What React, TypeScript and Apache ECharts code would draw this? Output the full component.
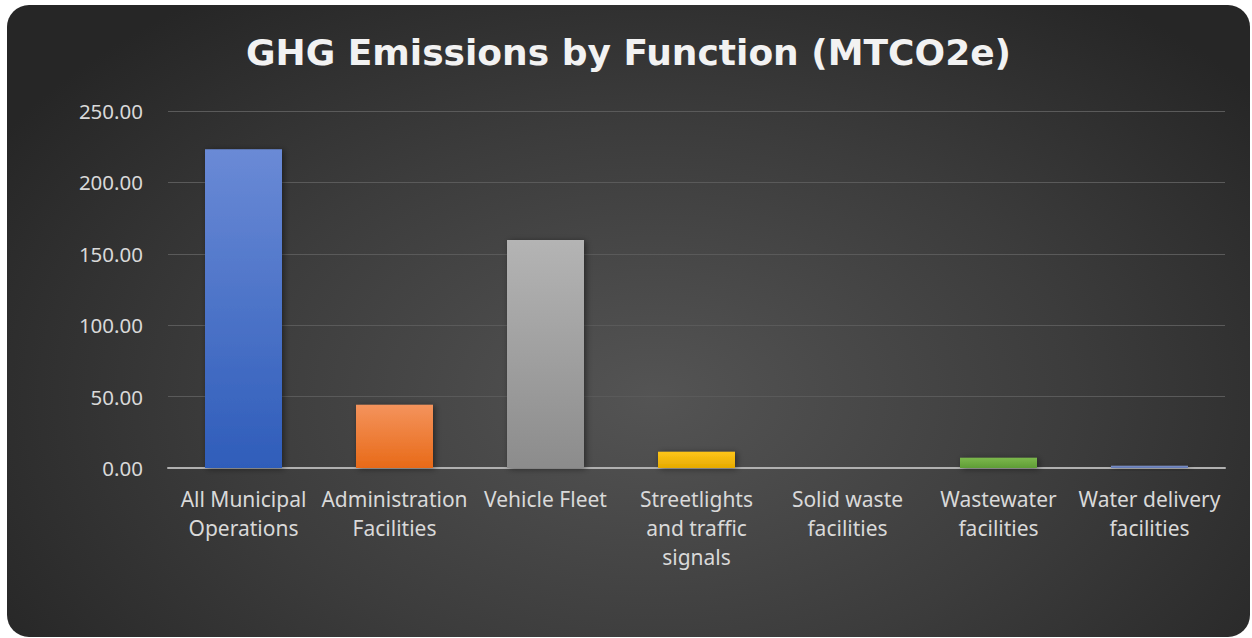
import React, { useEffect, useRef } from "react";
import * as echarts from "echarts";

const categories = [
  "All Municipal\nOperations",
  "Administration\nFacilities",
  "Vehicle Fleet",
  "Streetlights\nand traffic\nsignals",
  "Solid waste\nfacilities",
  "Wastewater\nfacilities",
  "Water delivery\nfacilities",
];
const values = [223.3, 44.3, 159.7, 11.4, 0, 7.2, 1.6];
const topColors = ["#6a8ad6", "#f4935c", "#b4b4b4", "#ffc619", "#6ea6dc", "#7cb84c", "#7f94c8"];
const bottomColors = ["#2f5dba", "#e86a18", "#8c8c8c", "#e6aa00", "#3f85c8", "#5f9d36", "#5f76b4"];
const yTicks = { min: 0, max: 250, interval: 50 };
const title = "GHG Emissions by Function (MTCO2e)";

export default function App() {
  const ref = useRef<HTMLDivElement>(null);
  useEffect(() => {
    if (!ref.current) return;
    const chart = echarts.init(ref.current, null, { renderer: "svg" });
    const font = "'Noto Sans', sans-serif";
    chart.setOption({
      animation: false,
      backgroundColor: "transparent",
      graphic: [
        {
          type: "text",
          left: "center",
          top: 29,
          style: {
            text: title,
            font: `bold 36px 'DejaVu Sans', sans-serif`,
            fill: "#f2f2f2",
            shadowColor: "rgba(0,0,0,0.7)",
            shadowBlur: 5,
            shadowOffsetX: 2,
            shadowOffsetY: 2,
          },
        },
      ],
      grid: { left: 161, right: 25, top: 106, bottom: 169 },
      xAxis: {
        type: "category",
        data: categories,
        axisLine: { show: true, lineStyle: { color: "#b0b0b0", width: 2 } },
        axisTick: { show: false },
        axisLabel: {
          color: "#d9d9d9",
          fontFamily: font,
          fontSize: 21,
          lineHeight: 29,
          margin: 16,
          interval: 0,
        },
      },
      yAxis: {
        type: "value",
        min: yTicks.min,
        max: yTicks.max,
        interval: yTicks.interval,
        axisLine: { show: false },
        axisTick: { show: false },
        splitLine: { lineStyle: { color: "#5a5a5a", width: 1 } },
        axisLabel: {
          color: "#d9d9d9",
          fontFamily: font,
          fontSize: 20.5,
          margin: 25,
          formatter: (v: number) => v.toFixed(2),
        },
      },
      series: [
        {
          type: "bar",
          barWidth: 77,
          data: values.map((v, i) => ({
            value: v,
            itemStyle: {
              color: new echarts.graphic.LinearGradient(0, 0, 0, 1, [
                { offset: 0, color: topColors[i] },
                { offset: 1, color: bottomColors[i] },
              ]),
              shadowColor: "rgba(0,0,0,0.45)",
              shadowBlur: 6,
              shadowOffsetX: 2,
              shadowOffsetY: 1,
            },
          })),
        },
      ],
    });
    return () => chart.dispose();
  }, []);
  return (
    <div style={{ position: "fixed", left: 0, top: 0, width: 1252, height: 638, background: "#fff" }}>
      <div
        style={{
          position: "absolute",
          left: 7,
          top: 5,
          width: 1243,
          height: 632,
          borderRadius: 22,
          overflow: "hidden",
          background:
            "radial-gradient(ellipse 62% 78% at 52% 62%, #545454 0%, #3c3c3c 55%, #262626 100%)",
        }}
      >
        <div ref={ref} style={{ width: 1243, height: 632 }} />
      </div>
    </div>
  );
}
